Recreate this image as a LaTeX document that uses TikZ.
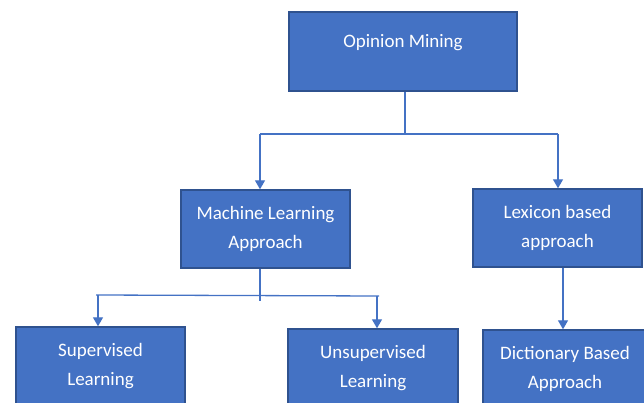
\documentclass[tikz,border=0pt]{standalone}
\usepackage{fontspec}
\setmainfont{Carlito}
\usetikzlibrary{arrows.meta}
\definecolor{boxfill}{HTML}{4472C4}
\definecolor{boxedge}{HTML}{2F528F}
\definecolor{linkcol}{HTML}{4472C4}
\tikzset{
  box/.style={draw=boxedge, fill=boxfill, line width=1.4pt, text=white,
    font=\fontsize{19}{29}\selectfont, align=center, inner sep=0pt,
    minimum width=169pt, minimum height=78pt},
  link/.style={draw=linkcol, line width=1.3pt},
  arrowlink/.style={link, -{Triangle[length=9pt,width=10pt]}}
}
\begin{document}
\begin{tikzpicture}[x=1pt, y=-1pt]
  \useasboundingbox (0,0) rectangle (644,403);
  \clip (0,0) rectangle (644,403);

  % boxes
  \node[box, minimum width=228pt, minimum height=79pt, text depth=22pt] (om) at (403,51.5) {Opinion Mining};
  \node[box] (ml)  at (265.5,229) {Machine Learning\\Approach};
  \node[box] (lex) at (557.5,228) {Lexicon based\\approach};
  \node[box] (sup) at (100.5,366) {Supervised\\Learning};
  \node[box, minimum width=170pt] (uns) at (373,368) {Unsupervised\\Learning};
  \node[box, minimum width=164pt] (dic) at (565,369) {Dictionary Based\\Approach};

  % first level split
  \coordinate (s1) at (405,134);
  \coordinate (l1) at (260,134);
  \coordinate (r1) at (558,134);
  \draw[link] (om.south -| s1) -- (s1);
  \draw[link] (l1) -- (r1);
  \draw[arrowlink] (l1) -- (l1 |- ml.north);
  \draw[arrowlink] (r1) -- (r1 |- lex.north);

  % second level split
  \coordinate (s2) at (260,301);
  \coordinate (l2) at (96,295);
  \coordinate (r2) at (379,296);
  \coordinate (la) at (98,295);
  \coordinate (ra) at (377,296);
  \draw[link] (ml.south -| s2) -- (s2);
  \draw[link] (l2) -- (r2);
  \draw[arrowlink] (la) -- (la |- sup.north);
  \draw[arrowlink] (ra) -- (ra |- uns.north);

  % lexicon to dictionary
  \coordinate (d1) at (563,0);
  \draw[arrowlink] (lex.south -| d1) -- (dic.north -| d1);
\end{tikzpicture}
\end{document}
